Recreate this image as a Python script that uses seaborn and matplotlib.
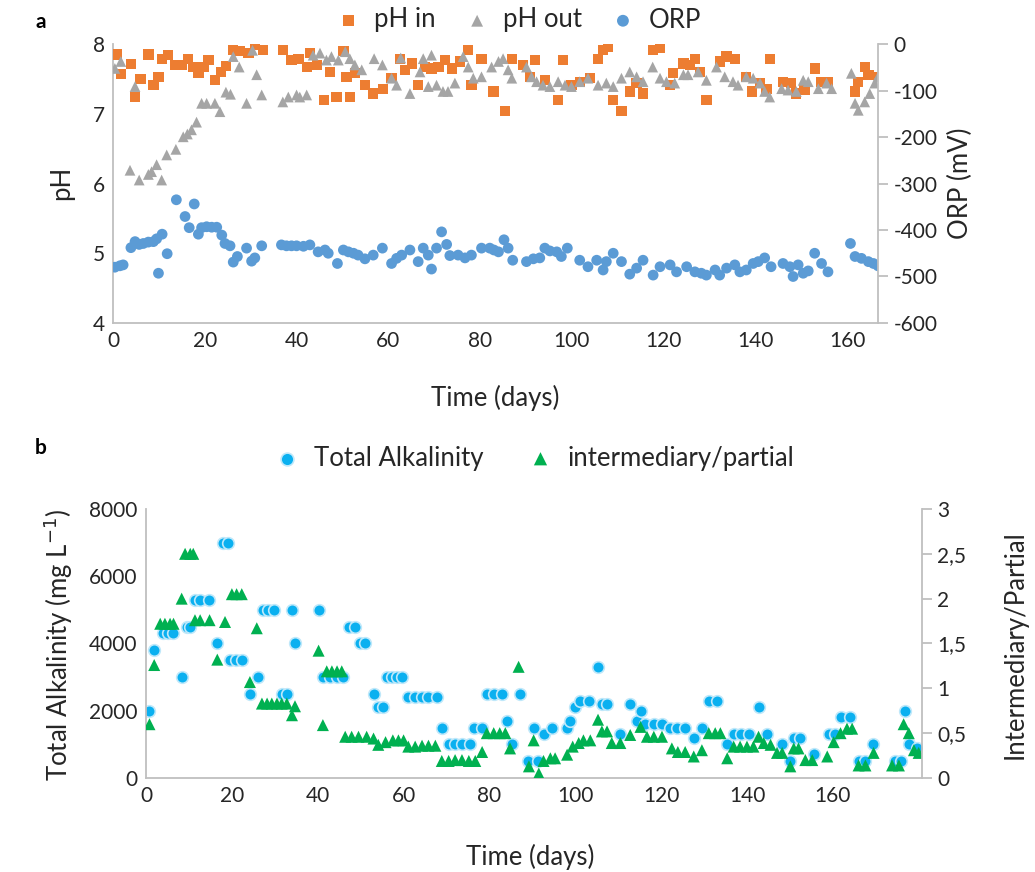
import matplotlib
matplotlib.use("Agg")
import matplotlib.pyplot as plt
import seaborn as sns
import pandas as pd
from matplotlib.ticker import FixedLocator

# ---------------- Panel a: pH and ORP ----------------
phin_day = [0.8, 1.7, 3.9, 4.8, 6.0, 7.7, 8.8, 9.9, 10.6, 12.0, 13.5, 15.0, 16.4, 17.5, 18.6, 19.7,
            20.8, 22.2, 23.5, 24.6, 26.2, 27.7, 29.5, 30.9, 32.7, 37.1, 38.9, 40.4, 42.2, 42.9, 44.4,
            46.0, 47.3, 48.7, 50.2, 50.9, 51.6, 52.7, 54.9, 56.7, 58.9, 60.7, 62.5, 63.6, 65.1, 66.5,
            68.0, 69.4, 70.9, 72.3, 73.8, 75.6, 77.4, 78.1, 80.3, 82.9, 85.4, 86.9, 89.4, 90.8, 91.9,
            94.1, 97.0, 98.0, 99.9, 101.7, 103.9, 105.7, 106.8, 107.9, 108.9, 110.8, 112.6, 114.1,
            115.5, 117.7, 119.2, 121.4, 122.1, 124.3, 125.7, 126.8, 127.9, 129.3, 132.2, 133.7, 135.5,
            138.0, 139.2, 141.0, 142.4, 143.1, 146.0, 147.8, 148.9, 150.7, 152.9, 154.4, 155.8, 161.7,
            162.4, 163.9, 164.6, 167.0]
phin_val = [7.85, 7.57, 7.71, 7.24, 7.50, 7.85, 7.41, 7.53, 7.79, 7.84, 7.70, 7.70, 7.79, 7.67, 7.59,
            7.67, 7.77, 7.48, 7.60, 7.69, 7.91, 7.90, 7.87, 7.99, 7.91, 7.91, 7.77, 7.79, 7.67, 7.87,
            7.70, 7.20, 7.60, 7.24, 7.90, 7.53, 7.24, 7.58, 7.41, 7.29, 7.36, 7.51, 7.79, 7.63, 7.72,
            7.41, 7.67, 7.65, 7.67, 7.77, 7.65, 7.75, 7.91, 7.41, 7.79, 7.32, 7.04, 7.79, 7.70, 7.53,
            7.77, 7.48, 7.20, 7.77, 7.41, 7.46, 7.51, 7.79, 7.91, 7.96, 7.20, 7.04, 7.32, 7.44, 7.29,
            7.91, 7.94, 7.41, 7.58, 7.72, 7.70, 7.79, 7.60, 7.20, 7.75, 7.82, 7.79, 7.53, 7.32, 7.44,
            7.36, 7.79, 7.46, 7.44, 7.29, 7.34, 7.65, 7.46, 7.46, 7.32, 7.46, 7.67, 7.56, 7.53]

phout_day = [0.4, 1.7, 3.7, 4.8, 5.7, 7.7, 8.4, 9.5, 10.6, 11.7, 13.7, 15.3, 16.2, 17.1, 18.2, 19.3,
             20.4, 22.2, 23.3, 24.6, 25.6, 26.2, 27.5, 29.1, 30.4, 31.3, 32.4, 37.0, 38.2, 40.0, 40.7,
             42.2, 43.6, 45.1, 46.5, 47.6, 49.1, 50.6, 51.6, 52.7, 54.2, 56.9, 58.7, 60.7, 61.8, 62.7,
             64.7, 66.9, 67.6, 69.4, 68.7, 70.5, 71.9, 73.0, 74.5, 76.3, 77.4, 78.5, 80.3, 82.5, 84.0,
             85.0, 86.1, 86.9, 90.1, 91.2, 92.3, 93.7, 95.2, 97.0, 98.5, 99.9, 101.7, 103.5, 105.7,
             107.5, 109.0, 110.8, 112.6, 114.1, 115.5, 117.6, 119.2, 120.6, 122.4, 124.3, 125.3, 127.5,
             129.3, 131.5, 133.3, 135.1, 136.2, 138.0, 139.5, 141.0, 142.0, 143.1, 145.7, 147.1, 148.9,
             150.4, 151.5, 153.7, 155.5, 156.6, 160.9, 161.7, 162.4, 163.8, 164.9, 166.0, 166.7]
phout_val = [7.65, 7.75, 6.19, 7.39, 6.05, 6.13, 6.17, 6.27, 6.05, 6.41, 6.49, 6.67, 6.71, 6.77, 6.88,
             7.15, 7.15, 7.15, 7.03, 7.31, 7.28, 7.82, 7.67, 7.15, 7.91, 7.56, 7.27, 7.17, 7.24, 7.27,
             7.24, 7.27, 7.84, 7.87, 7.77, 7.82, 7.77, 7.89, 7.79, 7.70, 7.63, 7.79, 7.70, 7.51, 7.41,
             7.80, 7.29, 7.60, 7.79, 7.84, 7.39, 7.41, 7.32, 7.32, 7.44, 7.82, 7.67, 7.51, 7.53, 7.67,
             7.75, 7.79, 7.63, 7.51, 7.67, 7.53, 7.46, 7.41, 7.39, 7.46, 7.41, 7.39, 7.46, 7.51, 7.41,
             7.44, 7.39, 7.51, 7.60, 7.53, 7.46, 7.67, 7.51, 7.46, 7.44, 7.56, 7.56, 7.60, 7.48, 7.67,
             7.53, 7.46, 7.41, 7.53, 7.51, 7.44, 7.32, 7.24, 7.36, 7.34, 7.32, 7.48, 7.46, 7.36, 7.44,
             7.36, 7.58, 7.15, 7.05, 7.17, 7.29, 7.44, 7.53]

orp_day = [0.4, 1.5, 2.2, 3.9, 4.8, 5.7, 6.6, 7.7, 8.8, 9.5, 9.9, 10.7, 11.8, 13.8, 15.7, 16.6, 17.7,
           18.6, 19.3, 20.4, 21.5, 22.6, 23.7, 24.4, 25.5, 26.2, 27.1, 29.1, 30.2, 30.9, 32.4, 36.7,
           37.8, 38.9, 40.0, 41.5, 42.9, 44.7, 46.2, 46.9, 48.9, 50.2, 51.3, 52.4, 53.4, 54.9, 56.7,
           58.7, 60.7, 61.8, 62.9, 64.7, 66.5, 67.6, 68.7, 69.4, 70.5, 71.6, 72.7, 73.4, 75.2, 76.7,
           78.1, 80.3, 82.1, 83.0, 84.0, 85.2, 86.1, 87.1, 90.1, 91.6, 93.0, 94.1, 95.2, 96.7, 97.7,
           99.0, 101.7, 103.5, 105.4, 106.8, 107.5, 109.0, 110.8, 112.6, 114.1, 115.5, 117.7, 119.2,
           121.4, 122.8, 125.0, 126.8, 128.2, 129.3, 131.2, 132.2, 133.7, 135.5, 136.6, 138.0, 139.5,
           140.6, 142.0, 143.4, 146.0, 147.5, 148.2, 149.3, 150.4, 151.5, 152.9, 154.4, 155.8, 160.7,
           161.7, 163.1, 164.6, 165.7, 166.7]
orp_val = [-480, -477, -475, -438, -425, -431, -429, -426, -425, -419, -493, -409, -451, -335, -371,
           -395, -344, -409, -395, -393, -394, -394, -411, -429, -434, -469, -457, -439, -467, -460,
           -434, -432, -434, -434, -434, -435, -432, -447, -443, -450, -472, -443, -447, -450, -454,
           -462, -454, -439, -472, -461, -454, -443, -468, -439, -454, -484, -439, -404, -431, -455,
           -454, -460, -454, -439, -439, -443, -447, -421, -439, -465, -468, -462, -460, -439, -445,
           -447, -457, -439, -465, -479, -465, -486, -468, -450, -468, -495, -482, -465, -497, -479,
           -475, -490, -479, -490, -493, -497, -486, -497, -482, -475, -490, -486, -472, -468, -460,
           -479, -472, -479, -500, -475, -493, -488, -450, -472, -490, -429, -457, -461, -468, -472,
           -477]

# ---------------- Panel b: alkalinity ----------------
ta_day = [0.8, 1.9, 4.0, 5.2, 6.2, 8.3, 9.5, 10.3, 11.4, 12.6, 14.7, 16.6, 17.9, 19.0, 19.6, 21.0,
          22.3, 24.2, 26.2, 27.3, 28.5, 29.7, 31.6, 32.8, 34.0, 34.7, 40.2, 41.3, 42.9, 44.5, 46.0,
          47.2, 48.7, 49.9, 51.0, 53.0, 54.1, 55.3, 56.1, 57.3, 58.4, 59.6, 61.1, 62.7, 64.2, 65.8,
          67.8, 68.9, 70.5, 72.0, 73.6, 75.5, 76.3, 78.3, 79.4, 81.0, 82.9, 84.1, 85.2, 87.2, 89.1,
          90.3, 91.4, 92.6, 94.6, 98.1, 98.8, 100.0, 101.2, 103.1, 105.3, 106.2, 107.5, 110.5, 112.8,
          114.4, 115.2, 116.3, 118.3, 120.2, 122.1, 123.7, 125.6, 127.6, 129.5, 131.1, 133.0, 135.4,
          136.9, 138.5, 140.4, 142.7, 144.7, 148.1, 150.1, 150.9, 152.4, 155.5, 159.2, 160.4, 161.8,
          164.1, 166.0, 167.6, 169.4, 174.4, 175.8, 176.9, 177.7, 179.5]
ta_val = [2000, 3800, 4300, 4300, 4300, 3000, 4500, 4500, 5300, 5300, 5300, 4000, 7000, 7000, 3500,
          3500, 3500, 2500, 3000, 5000, 5000, 5000, 2500, 2500, 5000, 4000, 5000, 3000, 3000, 3000,
          3000, 4500, 4500, 4000, 4000, 2500, 2100, 2100, 3000, 3000, 3000, 3000, 2400, 2400, 2400,
          2400, 2400, 1500, 1000, 1000, 1000, 1000, 1500, 1500, 2500, 2500, 2500, 1700, 1000, 2500,
          500, 1500, 500, 1300, 1500, 1500, 1700, 2100, 2300, 2300, 3300, 2200, 2200, 1300, 2200,
          1700, 2000, 1600, 1600, 1600, 1500, 1500, 1500, 1200, 1500, 2300, 2300, 1000, 1300, 1300,
          1300, 2100, 1300, 1000, 500, 1200, 1200, 700, 1300, 1300, 1800, 1800, 500, 500, 1000, 500,
          500, 2000, 1000, 900]

ip_day = [0.8, 1.9, 3.3, 4.4, 5.6, 6.4, 8.3, 9.1, 10.3, 11.0, 11.4, 12.6, 14.8, 16.6, 18.4, 20.0,
          21.1, 22.3, 24.2, 25.8, 27.0, 28.2, 29.3, 30.5, 31.6, 32.8, 34.0, 34.7, 40.2, 41.2, 42.1,
          43.3, 44.5, 45.6, 46.4, 47.9, 49.5, 51.4, 53.0, 54.1, 55.8, 57.5, 58.8, 60.0, 61.1, 62.7,
          64.3, 65.8, 67.4, 68.9, 70.5, 72.0, 73.6, 75.2, 76.7, 78.3, 79.4, 81.0, 82.4, 83.7, 84.8,
          86.8, 89.2, 90.3, 91.5, 92.6, 94.2, 95.3, 98.1, 99.4, 100.8, 101.9, 103.5, 105.3, 106.2,
          107.4, 108.5, 110.5, 112.8, 115.2, 116.7, 118.3, 120.2, 122.5, 123.9, 125.6, 127.6, 129.5,
          131.1, 132.6, 133.8, 135.4, 136.9, 138.4, 140.0, 141.5, 142.7, 143.9, 145.5, 147.0, 148.2,
          150.1, 150.9, 152.0, 153.6, 155.2, 158.7, 160.2, 161.8, 163.3, 164.5, 166.0, 167.6, 169.5,
          173.8, 175.4, 176.5, 177.7, 178.9, 180.0]
ip_val = [0.60, 1.26, 1.72, 1.72, 1.72, 1.72, 2.00, 2.50, 2.50, 2.50, 1.76, 1.76, 1.76, 1.32, 1.74,
          2.05, 2.05, 2.05, 1.07, 1.67, 0.83, 0.83, 0.83, 0.83, 0.83, 0.83, 0.70, 0.80, 1.42, 0.59,
          1.19, 1.19, 1.19, 1.19, 0.46, 0.46, 0.46, 0.46, 0.44, 0.37, 0.40, 0.42, 0.42, 0.42, 0.35,
          0.35, 0.36, 0.36, 0.36, 0.19, 0.19, 0.20, 0.20, 0.19, 0.19, 0.29, 0.50, 0.50, 0.50, 0.50,
          0.33, 1.24, 0.13, 0.42, 0.05, 0.19, 0.22, 0.22, 0.26, 0.35, 0.39, 0.42, 0.42, 0.65, 0.52,
          0.52, 0.39, 0.39, 0.48, 0.57, 0.46, 0.46, 0.46, 0.33, 0.29, 0.29, 0.24, 0.31, 0.50, 0.50,
          0.50, 0.22, 0.35, 0.35, 0.35, 0.35, 0.46, 0.39, 0.37, 0.28, 0.28, 0.13, 0.33, 0.33, 0.20,
          0.20, 0.24, 0.40, 0.50, 0.55, 0.55, 0.14, 0.14, 0.28, 0.14, 0.14, 0.60, 0.50, 0.31, 0.28]

ph_ticks = [4, 5, 6, 7, 8]
orp_ticks = [-600, -500, -400, -300, -200, -100, 0]
day_ticks = [0, 20, 40, 60, 80, 100, 120, 140, 160]
ta_ticks = [0, 2000, 4000, 6000, 8000]
ip_ticks = [0, 0.5, 1, 1.5, 2, 2.5, 3]
ip_tick_labels = ["0", "0,5", "1", "1,5", "2", "2,5", "3"]

df_in = pd.DataFrame({"day": phin_day, "pH": phin_val})
df_out = pd.DataFrame({"day": phout_day, "pH": phout_val})
df_orp = pd.DataFrame({"day": orp_day, "ORP": orp_val})
df_ta = pd.DataFrame({"day": ta_day, "TA": ta_val})
df_ip = pd.DataFrame({"day": ip_day, "IP": ip_val})

sns.set_theme(style="white")
plt.rcParams["font.family"] = ["Lato", "DejaVu Sans"]
plt.rcParams["axes.unicode_minus"] = False

ORANGE = "#ED7D31"
GREY = "#A5A5A5"
BLUE = "#5B9BD5"
CYAN = "#0AB0F0"
GREEN = "#00B050"
AXIS = "#BFBFBF"
TXT = "#262626"
TICK_FS = 15
LAB_FS = 18.5

W, H = 1035, 872
fig = plt.figure(figsize=(W / 100, H / 100), dpi=100)


def px(x, y):
    """Pixel position (from top-left) to figure fraction."""
    return x / W, 1 - y / H


def style_axes(ax, axr):
    for s in ["top", "right"]:
        ax.spines[s].set_visible(False)
    for s in ["left", "bottom"]:
        ax.spines[s].set_color(AXIS)
        ax.spines[s].set_linewidth(1.3)
    for s in ["top", "left", "bottom"]:
        axr.spines[s].set_visible(False)
    axr.spines["right"].set_color(AXIS)
    axr.spines["right"].set_linewidth(1.3)
    ax.tick_params(axis="both", length=0, labelsize=TICK_FS, labelcolor=TXT, pad=6)
    axr.tick_params(axis="y", length=7, width=1.3, color=AXIS, direction="out",
                    labelsize=TICK_FS, labelcolor=TXT, pad=4)
    ax.grid(False)
    axr.grid(False)
    ax.set_xlabel("")
    ax.set_ylabel("")
    axr.set_ylabel("")


def label(x, y, text, rot=0):
    fig.text(*px(x, y), text, ha="center", va="center", rotation=rot,
             fontsize=LAB_FS, color=TXT)


# ---------- panel a ----------
ax1 = fig.add_axes([0.1092, 0.6296, 0.7391, 0.3199])
ax1r = ax1.twinx()
sns.scatterplot(data=df_in, x="day", y="pH", ax=ax1, marker="s", color=ORANGE, s=55,
                edgecolor="none", label="pH in", legend=False, zorder=3)
sns.scatterplot(data=df_out, x="day", y="pH", ax=ax1, marker="^", color=GREY, s=60,
                edgecolor="none", label="pH out", legend=False, zorder=4)
sns.scatterplot(data=df_orp, x="day", y="ORP", ax=ax1r, marker="o", color=BLUE, s=60,
                edgecolor="none", label="ORP", legend=False)
ax1.set_xlim(0, 166.7)
ax1.set_ylim(4, 8)
ax1r.set_ylim(-600, 0)
ax1.xaxis.set_major_locator(FixedLocator(day_ticks))
ax1.yaxis.set_major_locator(FixedLocator(ph_ticks))
ax1r.yaxis.set_major_locator(FixedLocator(orp_ticks))
style_axes(ax1, ax1r)
label(495, 398, "Time (days)")
label(62, 183, "pH", rot=90)
label(960, 183, "ORP (mV)", rot=90)

h1, l1 = ax1.get_legend_handles_labels()
h2, l2 = ax1r.get_legend_handles_labels()
fig.legend(h1 + h2, l1 + l2, loc="center", bbox_to_anchor=px(512, 20), ncol=3,
           frameon=False, fontsize=LAB_FS, handletextpad=0.0, columnspacing=0.6,
           markerscale=1.1, labelcolor=TXT)

# ---------- panel b ----------
ax2 = fig.add_axes([0.1411, 0.1078, 0.7494, 0.3085])
ax2r = ax2.twinx()
sns.scatterplot(data=df_ta, x="day", y="TA", ax=ax2, marker="o", color=CYAN, s=70,
                edgecolor="#BFE8FA", linewidth=1.2, label="Total Alkalinity", legend=False)
sns.scatterplot(data=df_ip, x="day", y="IP", ax=ax2r, marker="^", color=GREEN, s=75,
                edgecolor="none", label="intermediary/partial", legend=False)
ax2.set_xlim(0, 180.7)
ax2.set_ylim(0, 8000)
ax2r.set_ylim(0, 3)
ax2.xaxis.set_major_locator(FixedLocator(day_ticks))
ax2.yaxis.set_major_locator(FixedLocator(ta_ticks))
ax2r.yaxis.set_major_locator(FixedLocator(ip_ticks))
ax2r.set_yticklabels(ip_tick_labels)
style_axes(ax2, ax2r)
label(530, 857, "Time (days)")
label(58, 645, "Total Alkalinity (mg L$^{-1}$)", rot=90)
label(1015, 645, "Intermediary/Partial", rot=90)

h3, l3 = ax2.get_legend_handles_labels()
h4, l4 = ax2r.get_legend_handles_labels()
fig.legend(h3 + h4, l3 + l4, loc="center", bbox_to_anchor=px(528, 458), ncol=2,
           frameon=False, fontsize=LAB_FS, handletextpad=0.05, columnspacing=1.2,
           markerscale=1.1, labelcolor=TXT)

fig.text(*px(35, 22), "a", fontsize=15, fontweight="bold", color="black", va="center")
fig.text(*px(35, 448), "b", fontsize=15, fontweight="bold", color="black", va="center")

fig.savefig("out.png", dpi=100, facecolor="white")
